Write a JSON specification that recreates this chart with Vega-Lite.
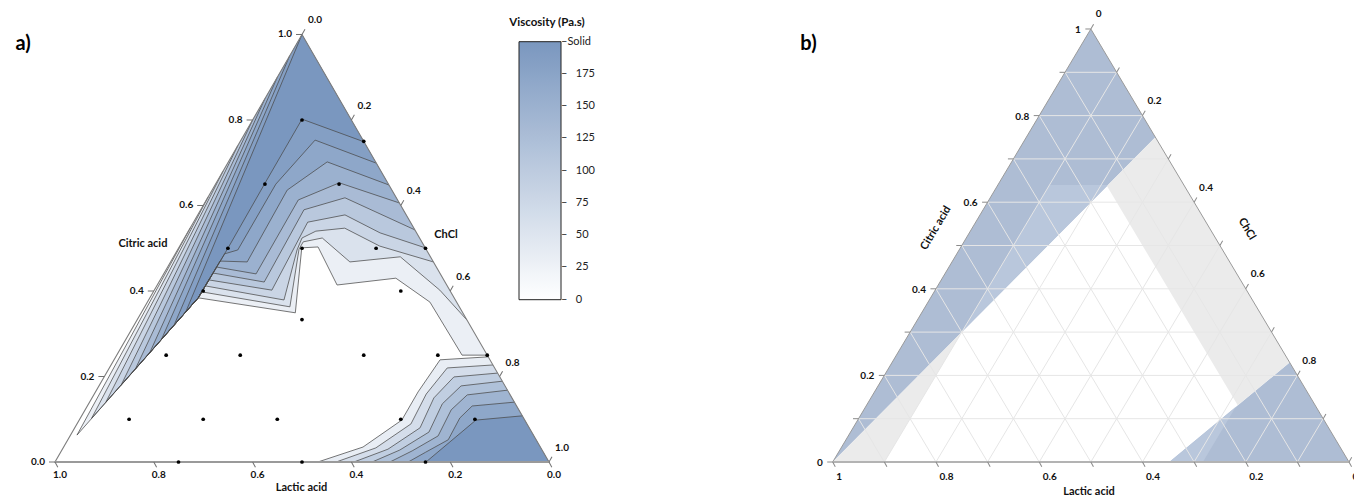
{
"$schema": "https://vega.github.io/schema/vega-lite/v6.json",
"padding": 0,
"spacing": 0,
"bounds": "flush",
"config": {"view": {"stroke": null}, "font": "Lato"},
"resolve": {"scale": {"x": "independent", "y": "independent"}},
"datasets": {
"a_reg": [
{"r":"a00","v":0,"i":0,"c":1,"h":0,"ln":0},{"r":"a00","v":0,"i":1,"c":0,"h":0,"ln":0},{"r":"a00","v":0,"i":2,"c":0,"h":1,"ln":0},{"r":"a00","v":0,"i":3,"c":1,"h":0,"ln":0},
{"r":"a01","v":30,"i":0,"c":1,"h":0,"ln":0},{"r":"a01","v":30,"i":1,"c":0.55,"h":0,"ln":1},{"r":"a01","v":30,"i":2,"c":0.063,"h":0.013,"ln":1},{"r":"a01","v":30,"i":3,"c":0.384,"h":0.098,"ln":1},{"r":"a01","v":30,"i":4,"c":0.349,"h":0.312,"ln":1},{"r":"a01","v":30,"i":5,"c":0.501,"h":0.249,"ln":1},{"r":"a01","v":30,"i":6,"c":0.503,"h":0.281,"ln":1},{"r":"a01","v":30,"i":7,"c":0.414,"h":0.364,"ln":1},{"r":"a01","v":30,"i":8,"c":0.43,"h":0.475,"ln":1},{"r":"a01","v":30,"i":9,"c":0.374,"h":0.572,"ln":1},{"r":"a01","v":30,"i":10,"c":0.25,"h":0.699,"ln":1},{"r":"a01","v":30,"i":11,"c":0.25,"h":0.75,"ln":1},
{"r":"a02","v":55,"i":0,"c":1,"h":0,"ln":0},{"r":"a02","v":55,"i":1,"c":0.62,"h":0,"ln":1},{"r":"a02","v":55,"i":2,"c":0.102,"h":0.023,"ln":1},{"r":"a02","v":55,"i":3,"c":0.384,"h":0.098,"ln":1},{"r":"a02","v":55,"i":4,"c":0.398,"h":0.098,"ln":1},{"r":"a02","v":55,"i":5,"c":0.363,"h":0.294,"ln":1},{"r":"a02","v":55,"i":6,"c":0.498,"h":0.245,"ln":1},{"r":"a02","v":55,"i":7,"c":0.515,"h":0.245,"ln":1},{"r":"a02","v":55,"i":8,"c":0.524,"h":0.279,"ln":1},{"r":"a02","v":55,"i":9,"c":0.468,"h":0.363,"ln":1},{"r":"a02","v":55,"i":10,"c":0.48,"h":0.459,"ln":1},{"r":"a02","v":55,"i":11,"c":0.402,"h":0.578,"ln":1},{"r":"a02","v":55,"i":12,"c":0.332,"h":0.668,"ln":1},
{"r":"a03","v":80,"i":0,"c":1,"h":0,"ln":0},{"r":"a03","v":80,"i":1,"c":0.68,"h":0,"ln":1},{"r":"a03","v":80,"i":2,"c":0.14,"h":0.033,"ln":1},{"r":"a03","v":80,"i":3,"c":0.384,"h":0.098,"ln":1},{"r":"a03","v":80,"i":4,"c":0.412,"h":0.098,"ln":1},{"r":"a03","v":80,"i":5,"c":0.379,"h":0.274,"ln":1},{"r":"a03","v":80,"i":6,"c":0.496,"h":0.242,"ln":1},{"r":"a03","v":80,"i":7,"c":0.524,"h":0.238,"ln":1},{"r":"a03","v":80,"i":8,"c":0.54,"h":0.258,"ln":1},{"r":"a03","v":80,"i":9,"c":0.547,"h":0.313,"ln":1},{"r":"a03","v":80,"i":10,"c":0.505,"h":0.405,"ln":1},{"r":"a03","v":80,"i":11,"c":0.468,"h":0.532,"ln":1},
{"r":"a04","v":105,"i":0,"c":1,"h":0,"ln":0},{"r":"a04","v":105,"i":1,"c":0.74,"h":0,"ln":1},{"r":"a04","v":105,"i":2,"c":0.179,"h":0.044,"ln":1},{"r":"a04","v":105,"i":3,"c":0.384,"h":0.098,"ln":1},{"r":"a04","v":105,"i":4,"c":0.426,"h":0.098,"ln":1},{"r":"a04","v":105,"i":5,"c":0.402,"h":0.238,"ln":1},{"r":"a04","v":105,"i":6,"c":0.561,"h":0.231,"ln":1},{"r":"a04","v":105,"i":7,"c":0.578,"h":0.298,"ln":1},{"r":"a04","v":105,"i":8,"c":0.536,"h":0.39,"ln":1},{"r":"a04","v":105,"i":9,"c":0.501,"h":0.499,"ln":1},
{"r":"a05","v":130,"i":0,"c":1,"h":0,"ln":0},{"r":"a05","v":130,"i":1,"c":0.8,"h":0,"ln":1},{"r":"a05","v":130,"i":2,"c":0.217,"h":0.054,"ln":1},{"r":"a05","v":130,"i":3,"c":0.384,"h":0.098,"ln":1},{"r":"a05","v":130,"i":4,"c":0.442,"h":0.099,"ln":1},{"r":"a05","v":130,"i":5,"c":0.421,"h":0.213,"ln":1},{"r":"a05","v":130,"i":6,"c":0.59,"h":0.209,"ln":1},{"r":"a05","v":130,"i":7,"c":0.618,"h":0.278,"ln":1},{"r":"a05","v":130,"i":8,"c":0.543,"h":0.457,"ln":1},
{"r":"a06","v":150,"i":0,"c":1,"h":0,"ln":0},{"r":"a06","v":150,"i":1,"c":0.85,"h":0,"ln":1},{"r":"a06","v":150,"i":2,"c":0.255,"h":0.064,"ln":1},{"r":"a06","v":150,"i":3,"c":0.384,"h":0.098,"ln":1},{"r":"a06","v":150,"i":4,"c":0.456,"h":0.099,"ln":1},{"r":"a06","v":150,"i":5,"c":0.44,"h":0.187,"ln":1},{"r":"a06","v":150,"i":6,"c":0.613,"h":0.186,"ln":1},{"r":"a06","v":150,"i":7,"c":0.653,"h":0.249,"ln":1},{"r":"a06","v":150,"i":8,"c":0.606,"h":0.394,"ln":1},
{"r":"a07","v":170,"i":0,"c":1,"h":0,"ln":0},{"r":"a07","v":170,"i":1,"c":0.9,"h":0,"ln":1},{"r":"a07","v":170,"i":2,"c":0.288,"h":0.072,"ln":1},{"r":"a07","v":170,"i":3,"c":0.384,"h":0.098,"ln":1},{"r":"a07","v":170,"i":4,"c":0.47,"h":0.099,"ln":1},{"r":"a07","v":170,"i":5,"c":0.468,"h":0.155,"ln":1},{"r":"a07","v":170,"i":6,"c":0.636,"h":0.152,"ln":1},{"r":"a07","v":170,"i":7,"c":0.702,"h":0.2,"ln":1},{"r":"a07","v":170,"i":8,"c":0.648,"h":0.352,"ln":1},
{"r":"a08","v":185,"i":0,"c":1,"h":0,"ln":0},{"r":"a08","v":185,"i":1,"c":0.95,"h":0,"ln":1},{"r":"a08","v":185,"i":2,"c":0.32,"h":0.081,"ln":1},{"r":"a08","v":185,"i":3,"c":0.384,"h":0.098,"ln":1},{"r":"a08","v":185,"i":4,"c":0.487,"h":0.1,"ln":1},{"r":"a08","v":185,"i":5,"c":0.496,"h":0.122,"ln":1},{"r":"a08","v":185,"i":6,"c":0.65,"h":0.122,"ln":1},{"r":"a08","v":185,"i":7,"c":0.753,"h":0.15,"ln":1},{"r":"a08","v":185,"i":8,"c":0.699,"h":0.301,"ln":1},
{"r":"a09","v":200,"i":0,"c":1,"h":0,"ln":1},{"r":"a09","v":200,"i":1,"c":0.352,"h":0.089,"ln":1},{"r":"a09","v":200,"i":2,"c":0.384,"h":0.098,"ln":1},{"r":"a09","v":200,"i":3,"c":0.501,"h":0.1,"ln":1},{"r":"a09","v":200,"i":4,"c":0.653,"h":0.099,"ln":1},{"r":"a09","v":200,"i":5,"c":0.802,"h":0.099,"ln":1},{"r":"a09","v":200,"i":6,"c":0.749,"h":0.251,"ln":1},
{"r":"c01","v":35,"i":0,"c":0,"h":0.532,"ln":1},{"r":"c01","v":35,"i":1,"c":0.035,"h":0.606,"ln":1},{"r":"c01","v":35,"i":2,"c":0.098,"h":0.653,"ln":1},{"r":"c01","v":35,"i":3,"c":0.164,"h":0.653,"ln":1},{"r":"c01","v":35,"i":4,"c":0.239,"h":0.66,"ln":1},{"r":"c01","v":35,"i":5,"c":0.246,"h":0.754,"ln":1},{"r":"c01","v":35,"i":6,"c":0,"h":1,"ln":0},
{"r":"c02","v":65,"i":0,"c":0,"h":0.569,"ln":1},{"r":"c02","v":65,"i":1,"c":0.033,"h":0.633,"ln":1},{"r":"c02","v":65,"i":2,"c":0.089,"h":0.676,"ln":1},{"r":"c02","v":65,"i":3,"c":0.159,"h":0.672,"ln":1},{"r":"c02","v":65,"i":4,"c":0.22,"h":0.684,"ln":1},{"r":"c02","v":65,"i":5,"c":0.227,"h":0.773,"ln":1},{"r":"c02","v":65,"i":6,"c":0,"h":1,"ln":0},
{"r":"c03","v":95,"i":0,"c":0,"h":0.605,"ln":1},{"r":"c03","v":95,"i":1,"c":0.03,"h":0.659,"ln":1},{"r":"c03","v":95,"i":2,"c":0.08,"h":0.699,"ln":1},{"r":"c03","v":95,"i":3,"c":0.15,"h":0.692,"ln":1},{"r":"c03","v":95,"i":4,"c":0.199,"h":0.708,"ln":1},{"r":"c03","v":95,"i":5,"c":0.208,"h":0.792,"ln":1},{"r":"c03","v":95,"i":6,"c":0,"h":1,"ln":0},
{"r":"c04","v":120,"i":0,"c":0,"h":0.642,"ln":1},{"r":"c04","v":120,"i":1,"c":0.028,"h":0.684,"ln":1},{"r":"c04","v":120,"i":2,"c":0.07,"h":0.722,"ln":1},{"r":"c04","v":120,"i":3,"c":0.136,"h":0.716,"ln":1},{"r":"c04","v":120,"i":4,"c":0.178,"h":0.733,"ln":1},{"r":"c04","v":120,"i":5,"c":0.189,"h":0.811,"ln":1},{"r":"c04","v":120,"i":6,"c":0,"h":1,"ln":0},
{"r":"c05","v":145,"i":0,"c":0,"h":0.678,"ln":1},{"r":"c05","v":145,"i":1,"c":0.026,"h":0.71,"ln":1},{"r":"c05","v":145,"i":2,"c":0.061,"h":0.745,"ln":1},{"r":"c05","v":145,"i":3,"c":0.122,"h":0.741,"ln":1},{"r":"c05","v":145,"i":4,"c":0.157,"h":0.756,"ln":1},{"r":"c05","v":145,"i":5,"c":0.168,"h":0.832,"ln":1},{"r":"c05","v":145,"i":6,"c":0,"h":1,"ln":0},
{"r":"c06","v":170,"i":0,"c":0,"h":0.715,"ln":1},{"r":"c06","v":170,"i":1,"c":0.023,"h":0.739,"ln":1},{"r":"c06","v":170,"i":2,"c":0.052,"h":0.77,"ln":1},{"r":"c06","v":170,"i":3,"c":0.103,"h":0.768,"ln":1},{"r":"c06","v":170,"i":4,"c":0.131,"h":0.779,"ln":1},{"r":"c06","v":170,"i":5,"c":0.14,"h":0.86,"ln":1},{"r":"c06","v":170,"i":6,"c":0,"h":1,"ln":0},
{"r":"c07","v":200,"i":0,"c":0,"h":0.751,"ln":1},{"r":"c07","v":200,"i":1,"c":0.098,"h":0.803,"ln":1},{"r":"c07","v":200,"i":2,"c":0.108,"h":0.892,"ln":1},{"r":"c07","v":200,"i":3,"c":0,"h":1,"ln":0}
],
"a_pts": [
{"c":0.8,"h":0.1},{"c":0.65,"h":0.1},{"c":0.65,"h":0.25},{"c":0.5,"h":0.1},{"c":0.5,"h":0.25},{"c":0.5,"h":0.4},{"c":0.4,"h":0.1},{"c":0.3333,"h":0.3333},{"c":0.4,"h":0.5},{"c":0.25,"h":0.1},{"c":0.25,"h":0.25},{"c":0.25,"h":0.5},{"c":0.25,"h":0.65},{"c":0.1,"h":0.1},{"c":0.1,"h":0.25},{"c":0.1,"h":0.4},{"c":0.1,"h":0.65},{"c":0.1,"h":0.8},{"c":0,"h":0.25},{"c":0,"h":0.5},{"c":0,"h":0.75},{"c":0.75,"h":0.25},{"c":0.5,"h":0.5},{"c":0.25,"h":0.75}
],
"a_lab": [
{"ax":"L","c":0,"h":0,"t":"0.0"},{"ax":"L","c":0.2,"h":0,"t":"0.2"},{"ax":"L","c":0.4,"h":0,"t":"0.4"},{"ax":"L","c":0.6,"h":0,"t":"0.6"},{"ax":"L","c":0.8,"h":0,"t":"0.8"},{"ax":"L","c":1,"h":0,"t":"1.0"},
{"ax":"B","c":0,"h":0,"t":"1.0"},{"ax":"B","c":0,"h":0.2,"t":"0.8"},{"ax":"B","c":0,"h":0.4,"t":"0.6"},{"ax":"B","c":0,"h":0.6,"t":"0.4"},{"ax":"B","c":0,"h":0.8,"t":"0.2"},{"ax":"B","c":0,"h":1,"t":"0.0"},
{"ax":"R","c":1,"h":0,"t":"0.0"},{"ax":"R","c":0.8,"h":0.2,"t":"0.2"},{"ax":"R","c":0.6,"h":0.4,"t":"0.4"},{"ax":"R","c":0.4,"h":0.6,"t":"0.6"},{"ax":"R","c":0.2,"h":0.8,"t":"0.8"},{"ax":"R","c":0,"h":1,"t":"1.0"}
],
"a_txt": [
{"k":"t","t":"Citric acid","c":0.511,"h":-0.0775},{"k":"t","t":"ChCl","c":0.531,"h":0.526},{"k":"t","t":"Lactic acid","c":-0.0608,"h":0.5294},{"k":"p","t":"a)","c":0.978,"h":-0.5537},{"k":"v","t":"Viscosity (Pa.s)","c":1.0269,"h":0.4825}
],
"b_reg": [
{"r":"b1","k":"blue","i":0,"c":1,"h":0},{"r":"b1","k":"blue","i":1,"c":0.75,"h":0.25},{"r":"b1","k":"blue","i":2,"c":0,"h":0},
{"r":"b2","k":"blue","i":0,"c":0.23,"h":0.77},{"r":"b2","k":"blue","i":1,"c":0,"h":0.652},{"r":"b2","k":"blue","i":2,"c":0,"h":1},
{"r":"l1","k":"light","i":0,"c":0.64,"h":0.1},{"r":"l1","k":"light","i":1,"c":0.64,"h":0.2133},{"r":"l1","k":"light","i":2,"c":0.3,"h":0.1},
{"r":"l2","k":"light","i":0,"c":0,"h":0.652},{"r":"l2","k":"light","i":1,"c":0,"h":0.717},{"r":"l2","k":"light","i":2,"c":0.127,"h":0.717},
{"r":"g1","k":"gray","i":0,"c":0,"h":0},{"r":"g1","k":"gray","i":1,"c":0,"h":0.1},{"r":"g1","k":"gray","i":2,"c":0.3,"h":0.1},
{"r":"g2","k":"gray","i":0,"c":0.75,"h":0.25},{"r":"g2","k":"gray","i":1,"c":0.6375,"h":0.2125},{"r":"g2","k":"gray","i":2,"c":0.131,"h":0.719},{"r":"g2","k":"gray","i":3,"c":0.23,"h":0.77}
],
"b_grid": [
{"g":"c1","i":0,"c":0.1,"h":0},{"g":"c1","i":1,"c":0.1,"h":0.9},{"g":"c2","i":0,"c":0.2,"h":0},{"g":"c2","i":1,"c":0.2,"h":0.8},{"g":"c3","i":0,"c":0.3,"h":0},{"g":"c3","i":1,"c":0.3,"h":0.7},{"g":"c4","i":0,"c":0.4,"h":0},{"g":"c4","i":1,"c":0.4,"h":0.6},{"g":"c5","i":0,"c":0.5,"h":0},{"g":"c5","i":1,"c":0.5,"h":0.5},{"g":"c6","i":0,"c":0.6,"h":0},{"g":"c6","i":1,"c":0.6,"h":0.4},{"g":"c7","i":0,"c":0.7,"h":0},{"g":"c7","i":1,"c":0.7,"h":0.3},{"g":"c8","i":0,"c":0.8,"h":0},{"g":"c8","i":1,"c":0.8,"h":0.2},{"g":"c9","i":0,"c":0.9,"h":0},{"g":"c9","i":1,"c":0.9,"h":0.1},
{"g":"h1","i":0,"c":0,"h":0.1},{"g":"h1","i":1,"c":0.9,"h":0.1},{"g":"h2","i":0,"c":0,"h":0.2},{"g":"h2","i":1,"c":0.8,"h":0.2},{"g":"h3","i":0,"c":0,"h":0.3},{"g":"h3","i":1,"c":0.7,"h":0.3},{"g":"h4","i":0,"c":0,"h":0.4},{"g":"h4","i":1,"c":0.6,"h":0.4},{"g":"h5","i":0,"c":0,"h":0.5},{"g":"h5","i":1,"c":0.5,"h":0.5},{"g":"h6","i":0,"c":0,"h":0.6},{"g":"h6","i":1,"c":0.4,"h":0.6},{"g":"h7","i":0,"c":0,"h":0.7},{"g":"h7","i":1,"c":0.3,"h":0.7},{"g":"h8","i":0,"c":0,"h":0.8},{"g":"h8","i":1,"c":0.2,"h":0.8},{"g":"h9","i":0,"c":0,"h":0.9},{"g":"h9","i":1,"c":0.1,"h":0.9},
{"g":"l1","i":0,"c":0,"h":0.9},{"g":"l1","i":1,"c":0.9,"h":0},{"g":"l2","i":0,"c":0,"h":0.8},{"g":"l2","i":1,"c":0.8,"h":0},{"g":"l3","i":0,"c":0,"h":0.7},{"g":"l3","i":1,"c":0.7,"h":0},{"g":"l4","i":0,"c":0,"h":0.6},{"g":"l4","i":1,"c":0.6,"h":0},{"g":"l5","i":0,"c":0,"h":0.5},{"g":"l5","i":1,"c":0.5,"h":0},{"g":"l6","i":0,"c":0,"h":0.4},{"g":"l6","i":1,"c":0.4,"h":0},{"g":"l7","i":0,"c":0,"h":0.3},{"g":"l7","i":1,"c":0.3,"h":0},{"g":"l8","i":0,"c":0,"h":0.2},{"g":"l8","i":1,"c":0.2,"h":0},{"g":"l9","i":0,"c":0,"h":0.1},{"g":"l9","i":1,"c":0.1,"h":0}
],
"b_out": [
{"i":0,"c":1,"h":0},{"i":1,"c":0,"h":0},{"i":2,"c":0,"h":1},{"i":3,"c":1,"h":0}
],
"b_tick": [
{"ax":"L","c":0,"h":0},{"ax":"L","c":0.1,"h":0},{"ax":"L","c":0.2,"h":0},{"ax":"L","c":0.3,"h":0},{"ax":"L","c":0.4,"h":0},{"ax":"L","c":0.5,"h":0},{"ax":"L","c":0.6,"h":0},{"ax":"L","c":0.7,"h":0},{"ax":"L","c":0.8,"h":0},{"ax":"L","c":0.9,"h":0},{"ax":"L","c":1,"h":0},
{"ax":"B","c":0,"h":0},{"ax":"B","c":0,"h":0.1},{"ax":"B","c":0,"h":0.2},{"ax":"B","c":0,"h":0.3},{"ax":"B","c":0,"h":0.4},{"ax":"B","c":0,"h":0.5},{"ax":"B","c":0,"h":0.6},{"ax":"B","c":0,"h":0.7},{"ax":"B","c":0,"h":0.8},{"ax":"B","c":0,"h":0.9},{"ax":"B","c":0,"h":1},
{"ax":"R","c":1,"h":0},{"ax":"R","c":0.9,"h":0.1},{"ax":"R","c":0.8,"h":0.2},{"ax":"R","c":0.7,"h":0.3},{"ax":"R","c":0.6,"h":0.4},{"ax":"R","c":0.5,"h":0.5},{"ax":"R","c":0.4,"h":0.6},{"ax":"R","c":0.3,"h":0.7},{"ax":"R","c":0.2,"h":0.8},{"ax":"R","c":0.1,"h":0.9},{"ax":"R","c":0,"h":1}
],
"b_lab": [
{"ax":"L","c":0,"h":0,"t":"0"},{"ax":"L","c":0.2,"h":0,"t":"0.2"},{"ax":"L","c":0.4,"h":0,"t":"0.4"},{"ax":"L","c":0.6,"h":0,"t":"0.6"},{"ax":"L","c":0.8,"h":0,"t":"0.8"},{"ax":"L","c":1,"h":0,"t":"1"},
{"ax":"B","c":0,"h":0,"t":"1"},{"ax":"B","c":0,"h":0.2,"t":"0.8"},{"ax":"B","c":0,"h":0.4,"t":"0.6"},{"ax":"B","c":0,"h":0.6,"t":"0.4"},{"ax":"B","c":0,"h":0.8,"t":"0.2"},{"ax":"B","c":0,"h":1,"t":"0"},
{"ax":"R","c":1,"h":0,"t":"0"},{"ax":"R","c":0.8,"h":0.2,"t":"0.2"},{"ax":"R","c":0.6,"h":0.4,"t":"0.4"},{"ax":"R","c":0.4,"h":0.6,"t":"0.6"},{"ax":"R","c":0.2,"h":0.8,"t":"0.8"},{"ax":"R","c":0,"h":1,"t":"1"}
],
"b_txt": [
{"k":"L","t":"Citric acid","c":0.54,"h":-0.07},{"k":"R","t":"ChCl","c":0.538,"h":0.533},{"k":"B","t":"Lactic acid","c":-0.0693,"h":0.531},{"k":"p","t":"b)","c":0.9654,"h":-0.5296}
]
},
"hconcat": [
{
"width": 677, "height": 497,
"encoding": {
"x": {"field": "x", "type": "quantitative", "scale": {"domain": [-0.11134, 1.25911], "nice": false, "zero": false}, "axis": null},
"y": {"field": "c", "type": "quantitative", "scale": {"domain": [-0.08187, 1.0807], "nice": false, "zero": false}, "axis": null}
},
"layer": [
{"data": {"name": "a_reg"}, "transform": [{"calculate": "datum.h + datum.c / 2", "as": "x"}],
 "mark": {"type": "line", "strokeWidth": 0, "strokeOpacity": 0},
 "encoding": {
  "fill": {"field": "v", "type": "quantitative",
   "scale": {"domain": [0, 200], "range": ["#ffffff", "#7a97bf"], "interpolate": "rgb"},
   "legend": {"orient": "none", "legendX": 519, "legendY": 41.7, "direction": "vertical", "title": null,
    "gradientLength": 258, "gradientThickness": 42, "gradientStrokeColor": "#222222", "gradientStrokeWidth": 1,
    "values": [0, 25, 50, 75, 100, 125, 150, 175, 200],
    "labelExpr": "datum.value >= 200 ? '–Solid' : '–\u00a0\u00a0\u00a0' + datum.label",
    "labelFont": "Lato", "labelFontSize": 11, "labelColor": "#222222", "labelOffset": 0, "labelOverlap": false,
    "encode": {"labels": {"update": {"baseline": {"value": "middle"}}}}}},
  "detail": {"field": "r"},
  "order": {"field": "i", "type": "quantitative"}
 }},
{"data": {"name": "a_reg"}, "transform": [{"filter": "datum.ln == 1"}, {"calculate": "datum.h + datum.c / 2", "as": "x"}],
 "mark": {"type": "line", "stroke": "#4a4a4a", "strokeWidth": 0.75},
 "encoding": {"detail": {"field": "r"}, "order": {"field": "i", "type": "quantitative"}}},
{"data": {"name": "a_reg"}, "transform": [{"filter": "datum.r == 'a00'"}, {"calculate": "datum.h + datum.c / 2", "as": "x"}],
 "mark": {"type": "line", "stroke": "#7d7d7d", "strokeWidth": 1.1},
 "encoding": {"order": {"field": "i", "type": "quantitative"}}},
{"data": {"name": "a_reg"}, "transform": [{"filter": "datum.r == 'a00' && (datum.i == 1 || datum.i == 2)"}, {"calculate": "datum.h + datum.c / 2", "as": "x"}],
 "mark": {"type": "line", "stroke": "#9a9a9a", "strokeWidth": 2},
 "encoding": {"order": {"field": "i", "type": "quantitative"}}},
{"data": {"name": "a_pts"}, "transform": [{"calculate": "datum.h + datum.c / 2", "as": "x"}],
 "mark": {"type": "point", "filled": true, "color": "#000000", "size": 14, "opacity": 1}},
{"data": {"name": "a_lab"}, "transform": [{"filter": "datum.ax == 'L'"}, {"calculate": "datum.h + datum.c / 2", "as": "x"}],
 "mark": {"type": "point", "shape": "M0,0L-1,0", "size": 144, "filled": false, "stroke": "#707070", "strokeWidth": 1, "opacity": 1}},
{"data": {"name": "a_lab"}, "transform": [{"filter": "datum.ax == 'B'"}, {"calculate": "datum.h + datum.c / 2", "as": "x"}],
 "mark": {"type": "point", "shape": "M0,0L1,0", "angle": 62, "size": 144, "filled": false, "stroke": "#707070", "strokeWidth": 1, "opacity": 1}},
{"data": {"name": "a_lab"}, "transform": [{"filter": "datum.ax == 'R'"}, {"calculate": "datum.h + datum.c / 2", "as": "x"}],
 "mark": {"type": "point", "shape": "M0,0L1,0", "angle": 300, "size": 144, "filled": false, "stroke": "#707070", "strokeWidth": 1, "opacity": 1}},
{"data": {"name": "a_lab"}, "transform": [{"filter": "datum.ax == 'L'"}, {"calculate": "datum.h + datum.c / 2", "as": "x"}],
 "mark": {"type": "text", "font": "Lato", "fontWeight": "bold", "fontSize": 10, "color": "#111111", "align": "right", "baseline": "middle", "dx": -10},
 "encoding": {"text": {"field": "t"}}},
{"data": {"name": "a_lab"}, "transform": [{"filter": "datum.ax == 'B'"}, {"calculate": "datum.h + datum.c / 2", "as": "x"}],
 "mark": {"type": "text", "font": "Lato", "fontWeight": "bold", "fontSize": 10, "color": "#111111", "align": "center", "baseline": "middle", "dx": 5, "dy": 13},
 "encoding": {"text": {"field": "t"}}},
{"data": {"name": "a_lab"}, "transform": [{"filter": "datum.ax == 'R'"}, {"calculate": "datum.h + datum.c / 2", "as": "x"}],
 "mark": {"type": "text", "font": "Lato", "fontWeight": "bold", "fontSize": 10, "color": "#111111", "align": "left", "baseline": "middle", "dx": 6, "dy": -14},
 "encoding": {"text": {"field": "t"}}},
{"data": {"name": "a_txt"}, "transform": [{"filter": "datum.k == 't'"}, {"calculate": "datum.h + datum.c / 2", "as": "x"}],
 "mark": {"type": "text", "font": "Lato", "fontWeight": "bold", "fontSize": 11, "color": "#111111", "align": "center", "baseline": "middle"},
 "encoding": {"text": {"field": "t"}}},
{"data": {"name": "a_txt"}, "transform": [{"filter": "datum.k == 'v'"}, {"calculate": "datum.h + datum.c / 2", "as": "x"}],
 "mark": {"type": "text", "font": "Lato", "fontWeight": "bold", "fontSize": 11.5, "color": "#111111", "align": "center", "baseline": "middle"},
 "encoding": {"text": {"field": "t"}}},
{"data": {"name": "a_txt"}, "transform": [{"filter": "datum.k == 'p'"}, {"calculate": "datum.h + datum.c / 2", "as": "x"}],
 "mark": {"type": "text", "font": "Lato", "fontWeight": "bold", "fontSize": 20, "color": "#000000", "align": "center", "baseline": "middle"},
 "encoding": {"text": {"field": "t"}}}
]
},
{
"width": 677, "height": 497,
"encoding": {
"x": {"field": "x", "type": "quantitative", "scale": {"domain": [-0.30157, 1.00968], "nice": false, "zero": false}, "axis": null},
"y": {"field": "c", "type": "quantitative", "scale": {"domain": [-0.08083, 1.06697], "nice": false, "zero": false}, "axis": null}
},
"layer": [
{"data": {"name": "b_reg"}, "transform": [{"filter": "datum.k == 'blue'"}, {"calculate": "datum.h + datum.c / 2", "as": "x"}],
 "mark": {"type": "line", "fill": "#aebdd4", "strokeWidth": 0, "strokeOpacity": 0},
 "encoding": {"detail": {"field": "r"}, "order": {"field": "i", "type": "quantitative"}}},
{"data": {"name": "b_reg"}, "transform": [{"filter": "datum.k == 'light'"}, {"calculate": "datum.h + datum.c / 2", "as": "x"}],
 "mark": {"type": "line", "fill": "#b9c7dc", "strokeWidth": 0, "strokeOpacity": 0},
 "encoding": {"detail": {"field": "r"}, "order": {"field": "i", "type": "quantitative"}}},
{"data": {"name": "b_reg"}, "transform": [{"filter": "datum.k == 'gray'"}, {"calculate": "datum.h + datum.c / 2", "as": "x"}],
 "mark": {"type": "line", "fill": "#ebebeb", "strokeWidth": 0, "strokeOpacity": 0},
 "encoding": {"detail": {"field": "r"}, "order": {"field": "i", "type": "quantitative"}}},
{"data": {"name": "b_grid"}, "transform": [{"calculate": "datum.h + datum.c / 2", "as": "x"}],
 "mark": {"type": "line", "stroke": "#e6e6e6", "strokeWidth": 1},
 "encoding": {"detail": {"field": "g"}, "order": {"field": "i", "type": "quantitative"}}},
{"data": {"name": "b_out"}, "transform": [{"calculate": "datum.h + datum.c / 2", "as": "x"}],
 "mark": {"type": "line", "stroke": "#9a9a9a", "strokeWidth": 1},
 "encoding": {"order": {"field": "i", "type": "quantitative"}}},
{"data": {"name": "b_out"}, "transform": [{"filter": "datum.i == 1 || datum.i == 2"}, {"calculate": "datum.h + datum.c / 2", "as": "x"}],
 "mark": {"type": "line", "stroke": "#b3b3b3", "strokeWidth": 2.2},
 "encoding": {"order": {"field": "i", "type": "quantitative"}}},
{"data": {"name": "b_tick"}, "transform": [{"filter": "datum.ax == 'L'"}, {"calculate": "datum.h + datum.c / 2", "as": "x"}],
 "mark": {"type": "point", "shape": "M0,0L-1,0", "size": 121, "filled": false, "stroke": "#8a8a8a", "strokeWidth": 1, "opacity": 1}},
{"data": {"name": "b_tick"}, "transform": [{"filter": "datum.ax == 'B'"}, {"calculate": "datum.h + datum.c / 2", "as": "x"}],
 "mark": {"type": "point", "shape": "M0,0L1,0", "angle": 62, "size": 121, "filled": false, "stroke": "#8a8a8a", "strokeWidth": 1, "opacity": 1}},
{"data": {"name": "b_tick"}, "transform": [{"filter": "datum.ax == 'R'"}, {"calculate": "datum.h + datum.c / 2", "as": "x"}],
 "mark": {"type": "point", "shape": "M0,0L1,0", "angle": 300, "size": 121, "filled": false, "stroke": "#8a8a8a", "strokeWidth": 1, "opacity": 1}},
{"data": {"name": "b_lab"}, "transform": [{"filter": "datum.ax == 'L'"}, {"calculate": "datum.h + datum.c / 2", "as": "x"}],
 "mark": {"type": "text", "font": "Lato", "fontWeight": "bold", "fontSize": 10, "color": "#111111", "align": "right", "baseline": "middle", "dx": -10, "dy": 1, "clip": true},
 "encoding": {"text": {"field": "t"}}},
{"data": {"name": "b_lab"}, "transform": [{"filter": "datum.ax == 'B'"}, {"calculate": "datum.h + datum.c / 2", "as": "x"}],
 "mark": {"type": "text", "font": "Lato", "fontWeight": "bold", "fontSize": 10, "color": "#111111", "align": "left", "baseline": "middle", "dx": 3.5, "dy": 15, "clip": true},
 "encoding": {"text": {"field": "t"}}},
{"data": {"name": "b_lab"}, "transform": [{"filter": "datum.ax == 'R'"}, {"calculate": "datum.h + datum.c / 2", "as": "x"}],
 "mark": {"type": "text", "font": "Lato", "fontWeight": "bold", "fontSize": 10, "color": "#111111", "align": "left", "baseline": "middle", "dx": 5, "dy": -14.5, "clip": true},
 "encoding": {"text": {"field": "t"}}},
{"data": {"name": "b_txt"}, "transform": [{"filter": "datum.k == 'L'"}, {"calculate": "datum.h + datum.c / 2", "as": "x"}],
 "mark": {"type": "text", "font": "Lato", "fontWeight": "bold", "fontSize": 11, "color": "#111111", "align": "center", "baseline": "middle", "angle": 300.7},
 "encoding": {"text": {"field": "t"}}},
{"data": {"name": "b_txt"}, "transform": [{"filter": "datum.k == 'R'"}, {"calculate": "datum.h + datum.c / 2", "as": "x"}],
 "mark": {"type": "text", "font": "Lato", "fontWeight": "bold", "fontSize": 11, "color": "#111111", "align": "center", "baseline": "middle", "angle": 59.2},
 "encoding": {"text": {"field": "t"}}},
{"data": {"name": "b_txt"}, "transform": [{"filter": "datum.k == 'B'"}, {"calculate": "datum.h + datum.c / 2", "as": "x"}],
 "mark": {"type": "text", "font": "Lato", "fontWeight": "bold", "fontSize": 11, "color": "#111111", "align": "center", "baseline": "middle"},
 "encoding": {"text": {"field": "t"}}},
{"data": {"name": "b_txt"}, "transform": [{"filter": "datum.k == 'p'"}, {"calculate": "datum.h + datum.c / 2", "as": "x"}],
 "mark": {"type": "text", "font": "Lato", "fontWeight": "bold", "fontSize": 20, "color": "#000000", "align": "center", "baseline": "middle"},
 "encoding": {"text": {"field": "t"}}},
{"data": {"values": [{}]},
 "mark": {"type": "rule", "stroke": "#d6d6d6", "strokeWidth": 1},
 "encoding": {"x": {"datum": -0.3006}, "y": {"datum": -0.08083}, "y2": {"datum": 1.06697}}}
]
}
]
}
